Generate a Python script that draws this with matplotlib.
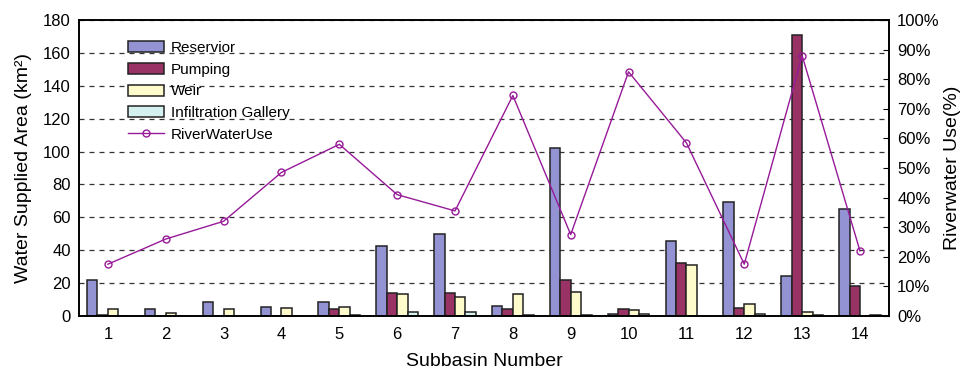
import numpy as np
import matplotlib
matplotlib.use('Agg')
import matplotlib.pyplot as plt
from matplotlib.ticker import PercentFormatter

plt.rcParams['font.family'] = ['Liberation Sans', 'DejaVu Sans']

# data
subbasins = ['1', '2', '3', '4', '5', '6', '7', '8', '9', '10', '11', '12', '13', '14']
reservior = [22, 4, 8.5, 5.5, 8.5, 42.5, 50, 6, 102, 1.5, 45.5, 69.5, 24.5, 65]
pumping = [0.5, 0, 0, 0, 4.5, 14, 14, 4, 22, 4, 32.5, 5, 171, 18]
weir = [4, 2, 4, 5, 5.5, 13.5, 11.5, 13.5, 14.5, 3.5, 31, 7.5, 2.5, 0]
infiltration = [0, 0, 0, 0, 0.8, 2.5, 2.5, 0.5, 0.5, 1, 0, 1.5, 0.5, 0.5]
river_use = [17.5, 26, 32, 48.5, 58, 41, 35.5, 74.5, 27.5, 82.5, 58.5, 17.5, 88, 22]

series = [
    ('Reservior', reservior, '#9393d3'),
    ('Pumping', pumping, '#993366'),
    ('Weir', weir, '#fdfbcb'),
    ('Infiltration Gallery', infiltration, '#d4f1ef'),
]

fig = plt.figure(figsize=(9.62, 3.76), dpi=100)
ax = fig.add_axes([0.0821, 0.1596, 0.8419, 0.7872])

x = np.arange(len(subbasins))
w = 0.18
for i, (name, vals, col) in enumerate(series):
    ax.bar(x + (i - 1.5) * w, vals, width=w, color=col, edgecolor='#222222',
           linewidth=1.1, label=name, zorder=2)

ax.set_xlim(-0.5, len(subbasins) - 0.5)
ax.set_ylim(0, 180)
ax.set_yticks(range(0, 181, 20))
ax.set_xticks(x)
ax.set_xticklabels(subbasins)
ax.yaxis.grid(True, linestyle=(0, (4, 4)), color='#333333', linewidth=0.9)
ax.set_axisbelow(True)
ax.tick_params(axis='x', length=0, pad=8, labelsize=12)
ax.tick_params(axis='y', length=0, pad=6, labelsize=12)
ax.set_xlabel('Subbasin Number', fontsize=14, labelpad=8)
ax.set_ylabel('Water Supplied Area (km²)', fontsize=14, labelpad=8)

ax2 = ax.twinx()
ax2.plot(x, river_use, color='#971a98', linewidth=1.0, marker='o',
         markersize=5, markerfacecolor='none', markeredgewidth=1.0,
         label='RiverWaterUse', zorder=5)
ax2.set_ylim(0, 100)
ax2.set_yticks(range(0, 101, 10))
ax2.yaxis.set_major_formatter(PercentFormatter(decimals=0))
ax2.tick_params(axis='y', direction='in', length=4, pad=6, labelsize=12)
ax2.set_ylabel('Riverwater Use(%)', fontsize=14, labelpad=3)

for a in (ax, ax2):
    for s in a.spines.values():
        s.set_linewidth(1.2)
        s.set_color('black')

h1, l1 = ax.get_legend_handles_labels()
h2, l2 = ax2.get_legend_handles_labels()
ax2.legend(h1 + h2, l1 + l2, loc='upper left', bbox_to_anchor=(0.044, 0.975),
           frameon=False, fontsize=11, handlelength=2.3, handleheight=0.75,
           labelspacing=0.5, handletextpad=0.5)

fig.savefig('out.png', dpi=100)
